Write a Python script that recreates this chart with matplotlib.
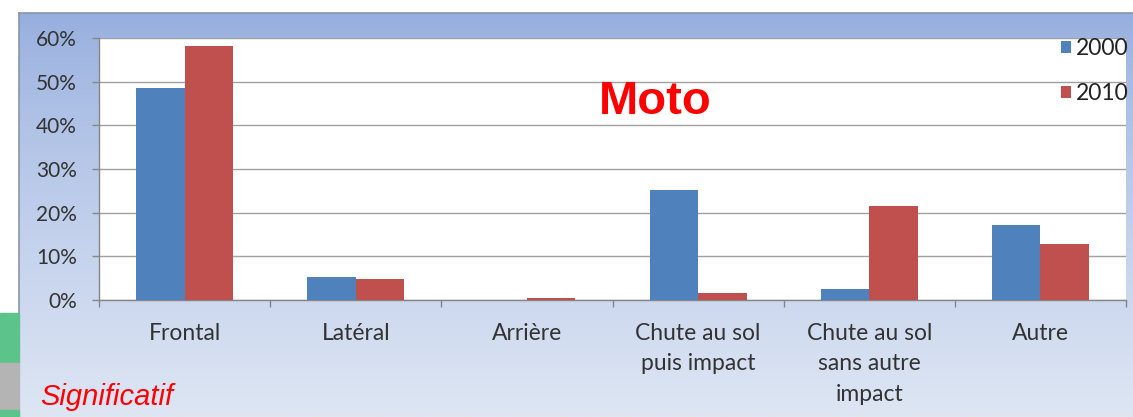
import numpy as np
import matplotlib
matplotlib.use("Agg")
from matplotlib import pyplot as plt
from matplotlib.patches import Rectangle

# Data
categories = ["Frontal", "Latéral", "Arrière", "Chute au sol\npuis impact",
              "Chute au sol\nsans autre\nimpact", "Autre"]
values2000 = [48.5, 5.3, 0.0, 25.3, 2.5, 17.2]
values2010 = [58.2, 4.8, 0.45, 1.5, 21.6, 12.8]
yticks = [0, 10, 20, 30, 40, 50, 60]

W, H = 1133, 417
fig = plt.figure(figsize=(W / 100, H / 100), dpi=100)
fig.patch.set_facecolor("white")

def fx(px):
    return px / W

def fy(py):
    return 1 - py / H

# Panel background (blue gradient)
bg = fig.add_axes([fx(19), 0, 1 - fx(19), fy(13)], zorder=0)
top = np.array([150, 174, 222]) / 255
bot = np.array([222, 230, 244]) / 255
t = np.linspace(0, 1, 256)[:, None] ** 0.8
grad = top[None, :] * (1 - t) + bot[None, :] * t
bg.imshow(grad[:, None, :], aspect="auto", extent=[0, 1, 0, 1])
bg.set_xticks([])
bg.set_yticks([])
for s in ["right", "bottom"]:
    bg.spines[s].set_visible(False)
for s in ["left", "top"]:
    bg.spines[s].set_color("#8a94a8")
    bg.spines[s].set_linewidth(1.2)

# Left strip decorations
fig.patches.append(Rectangle((0, fy(363)), fx(19), fy(313) - fy(363),
                             transform=fig.transFigure, color="#5cc38a", zorder=1))
fig.patches.append(Rectangle((0, fy(410)), fx(19), fy(363) - fy(410),
                             transform=fig.transFigure, color="#b4b4b4", zorder=1))
fig.patches.append(Rectangle((0, 0), fx(19), fy(410),
                             transform=fig.transFigure, color="#5cc38a", zorder=1))

# Main axes
ax = fig.add_axes([fx(99), fy(300), fx(1126) - fx(99), fy(38) - fy(300)], zorder=2)
ax.set_facecolor("white")
x = np.arange(len(categories))
bw = 0.283
b1 = ax.bar(x - bw / 2, values2000, bw, color="#4F81BD", label="2000", zorder=3)
b2 = ax.bar(x + bw / 2, values2010, bw, color="#C0504D", label="2010", zorder=3)

ax.set_xlim(-0.5, len(categories) - 0.5)
ax.set_ylim(0, 60)
ax.set_yticks(yticks)
ax.set_yticklabels([f"{v}%" for v in yticks])
ax.yaxis.grid(True, color="#a0a0a0", linewidth=1.0)
ax.set_axisbelow(True)

ax.set_xticks(x)
ax.set_xticklabels(categories, linespacing=1.55)
ax.set_xticks(np.arange(-0.5, len(categories)), minor=True)
ax.tick_params(axis="x", which="major", length=0, pad=16.5)
ax.tick_params(axis="x", which="minor", length=5, color="#868686", width=1)
ax.tick_params(axis="y", length=5, color="#868686", width=1, pad=11)

for lab in ax.get_xticklabels():
    lab.set_fontfamily("Lato")
    lab.set_fontsize(16.5)
    lab.set_color("#333333")
for lab in ax.get_yticklabels():
    lab.set_fontfamily("Lato")
    lab.set_fontsize(15)
    lab.set_color("#333333")

for s in ["top", "right"]:
    ax.spines[s].set_visible(False)
for s in ["left", "bottom"]:
    ax.spines[s].set_color("#868686")
    ax.spines[s].set_linewidth(1.0)

leg = ax.legend(loc="upper left", bbox_to_anchor=(fx(1061), fy(38)),
                bbox_transform=fig.transFigure, frameon=False,
                prop={"family": "Lato", "size": 16.5}, handlelength=0.45,
                handleheight=0.45, handletextpad=0.2, labelspacing=1.05,
                borderpad=0, borderaxespad=0)
for txt in leg.get_texts():
    txt.set_color("#222222")

fig.text(fx(655), fy(102), "Moto", color="#ff0000", fontsize=34,
         fontweight="bold", family="Liberation Sans", ha="center", va="center",
         zorder=5)
fig.text(fx(40), fy(405), "Significatif", color="#ff0000", fontsize=21,
         style="italic", family="Liberation Sans", ha="left", va="baseline",
         zorder=5)

fig.savefig("out.png", dpi=100)
